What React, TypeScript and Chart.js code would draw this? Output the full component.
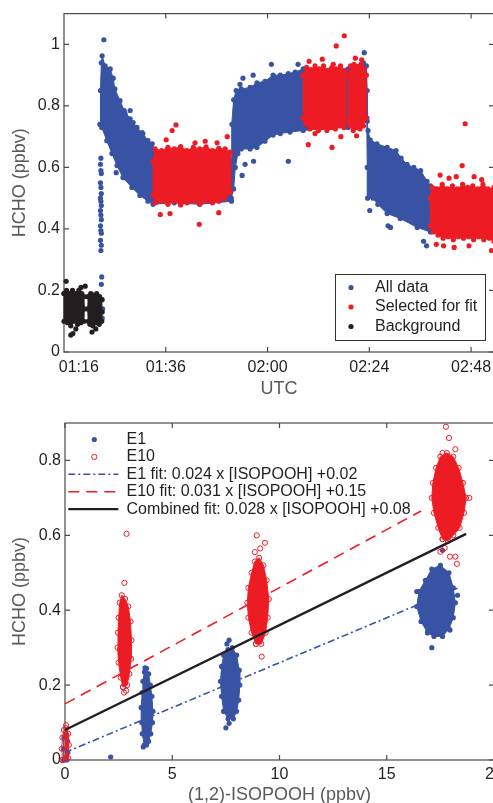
import React, { useEffect, useRef } from 'react';
import { Chart, registerables } from 'chart.js';
Chart.register(...registerables);

type P = [number, number];

// ---------------- Top panel: HCHO vs time (minutes after 00:00 UTC) ----------------
const timeRange: P = [72, 173.4];
const timeTickMinutes = [75.5, 96, 120, 144, 168];
const timeTickLabels = ['01:16', '01:36', '02:00', '02:24', '02:48'];
const timeTickMarks = [96, 120, 144, 168];
const topYRange: P = [0, 1.1];
const topYTicks = [0, 0.2, 0.4, 0.6, 0.8, 1];
const topYLabels = ['0', '0.2', '0.4', '0.6', '0.8', '1'];
const topLegendLabels = ['All data', 'Selected for fit', 'Background'];

// Background (black) clouds: outlines + scattered points
const backgroundCloudA: P[] = [[72.0, 0.19], [72.6, 0.2], [73.3, 0.19], [74.0, 0.2], [74.8, 0.19], [75.5, 0.2], [76.2, 0.19], [76.7, 0.18], [76.8, 0.14], [76.7, 0.1], [76.0, 0.095], [75.2, 0.09], [74.4, 0.1], [73.6, 0.085], [72.8, 0.095], [72.0, 0.1]];
const backgroundCloudB: P[] = [[77.7, 0.18], [78.3, 0.19], [79.0, 0.185], [79.7, 0.19], [80.4, 0.18], [80.9, 0.17], [81.0, 0.13], [80.9, 0.1], [80.3, 0.09], [79.5, 0.095], [78.8, 0.085], [78.1, 0.09], [77.7, 0.1], [77.6, 0.14]];
const backgroundPoints: P[] = [[72.5, 0.23], [73.6, 0.055], [74.1, 0.06], [76.0, 0.21], [77.0, 0.214], [78.6, 0.065], [79.5, 0.075], [74.8, 0.075]];

// All data (blue)
const allDataCloud1: P[] = [[80.5, 0.74], [80.6, 0.85], [80.8, 0.94], [81.0, 0.963], [81.7, 0.93], [82.9, 0.92], [83.6, 0.89], [84.0, 0.855], [85.2, 0.817], [86.2, 0.785], [87.6, 0.758], [89.2, 0.73], [90.6, 0.71], [91.8, 0.687], [92.8, 0.677], [93.5, 0.65], [100, 0.62], [111.4, 0.6], [111.5, 0.49], [104, 0.48], [98, 0.485], [93, 0.48], [91.8, 0.49], [89.9, 0.509], [88.0, 0.535], [85.9, 0.567], [84.5, 0.606], [83.3, 0.645], [82.1, 0.687], [80.9, 0.73]];
const allDataCloud2: P[] = [[111.4, 0.5], [111.5, 0.62], [111.6, 0.74], [112.0, 0.82], [112.6, 0.85], [113.8, 0.855], [115.9, 0.86], [117.5, 0.875], [119.4, 0.88], [121.3, 0.9], [123.0, 0.9], [124.9, 0.905], [126.5, 0.91], [128.4, 0.92], [135, 0.92], [139, 0.92], [142.6, 0.94], [143.3, 0.93], [143.5, 0.85], [143.5, 0.75], [139, 0.73], [135, 0.73], [128.4, 0.72], [125.3, 0.715], [123.0, 0.71], [121.3, 0.705], [119.4, 0.685], [117.5, 0.665], [115.9, 0.66], [113.8, 0.66], [113.0, 0.645], [112.4, 0.6], [112.0, 0.53]];
const allDataCloud3: P[] = [[143.4, 0.76], [143.7, 0.72], [144.2, 0.69], [145.8, 0.677], [148.2, 0.665], [150.3, 0.655], [151.5, 0.63], [152.9, 0.61], [154.5, 0.6], [156.1, 0.59], [157.6, 0.555], [158.4, 0.54], [165, 0.52], [173.4, 0.5], [173.4, 0.38], [165, 0.38], [158.4, 0.39], [155.3, 0.405], [151.3, 0.434], [148.2, 0.45], [146.0, 0.48], [144.9, 0.5], [143.6, 0.5], [143.5, 0.6]];
const allDataPoints: P[] = [[81.0, 0.11], [81.1, 0.14], [81.0, 0.17], [80.8, 0.22], [80.9, 0.244], [80.7, 0.33], [80.8, 0.347], [80.6, 0.363], [80.8, 0.386], [80.7, 0.395], [80.6, 0.41], [80.8, 0.43], [80.7, 0.445], [80.6, 0.46], [80.8, 0.476], [80.7, 0.49], [80.6, 0.5], [80.8, 0.515], [80.7, 0.535], [80.6, 0.55], [80.8, 0.58], [80.7, 0.59], [80.6, 0.61], [80.7, 0.63], [81.4, 1.015], [87.6, 0.785], [86.4, 0.775], [88.3, 0.746], [90.4, 0.713], [84.3, 0.583], [114.0, 0.574], [114.7, 0.61], [116.7, 0.62], [124.9, 0.62], [116.6, 0.9], [120.9, 0.935], [127.2, 0.935], [114.2, 0.89], [113.5, 0.87], [142.8, 0.973], [144.1, 0.46], [148.4, 0.41], [149.0, 0.405], [156.8, 0.36], [157.5, 0.345]];

// Selected for fit (red)
const fitCloud1: P[] = [[93.0, 0.62], [93.5, 0.66], [95, 0.655], [96.5, 0.665], [98, 0.66], [99.5, 0.668], [101, 0.655], [102.5, 0.665], [104, 0.66], [105.5, 0.667], [107, 0.655], [108.5, 0.662], [110, 0.66], [111.3, 0.65], [111.3, 0.52], [110, 0.5], [108.5, 0.49], [107, 0.485], [105.5, 0.492], [104, 0.48], [102.5, 0.49], [101, 0.485], [99.5, 0.478], [98, 0.49], [96.5, 0.48], [95, 0.49], [93.5, 0.485], [93.0, 0.51]];
const fitCloud2: P[] = [[128.4, 0.9], [129.2, 0.925], [130.2, 0.918], [131.2, 0.93], [132.2, 0.92], [133.2, 0.93], [134.2, 0.915], [135.2, 0.925], [136.2, 0.92], [137.2, 0.93], [138.2, 0.915], [138.6, 0.9], [138.6, 0.75], [138, 0.73], [137, 0.735], [136, 0.725], [135, 0.73], [134, 0.72], [133, 0.73], [132, 0.72], [131, 0.73], [130, 0.725], [129, 0.74], [128.4, 0.76]];
const fitCloud3: P[] = [[139.1, 0.9], [139.6, 0.93], [140.4, 0.935], [141.2, 0.928], [142.0, 0.935], [142.8, 0.92], [143.3, 0.9], [143.3, 0.76], [142.6, 0.735], [141.8, 0.725], [141.0, 0.73], [140.2, 0.72], [139.5, 0.735], [139.1, 0.75]];
const fitCloud4: P[] = [[158.4, 0.5], [158.8, 0.535], [160, 0.53], [161.2, 0.545], [162.4, 0.53], [163.6, 0.54], [164.8, 0.53], [166, 0.545], [167.2, 0.535], [168.4, 0.54], [169.6, 0.53], [170.8, 0.545], [172, 0.53], [173.4, 0.535], [173.4, 0.36], [172.3, 0.37], [171, 0.365], [169.8, 0.375], [168.6, 0.365], [167.4, 0.375], [166.2, 0.37], [165, 0.375], [163.8, 0.365], [162.6, 0.375], [161.4, 0.37], [160.2, 0.38], [159.0, 0.39], [158.4, 0.41]];
const fitPoints: P[] = [[96.1, 0.69], [97.5, 0.72], [98.4, 0.738], [102.9, 0.68], [105.3, 0.685], [108.1, 0.68], [110.5, 0.7], [94.7, 0.447], [97.0, 0.45], [103.9, 0.415], [108.5, 0.453], [129.8, 0.945], [132.9, 0.952], [135.5, 0.935], [136.2, 0.995], [138.1, 1.028], [129.6, 0.674], [135.2, 0.665], [131.2, 0.71], [137.3, 0.7], [140.7, 0.955], [142.2, 0.95], [141.0, 0.703], [165.9, 0.606], [166.6, 0.742], [160.7, 0.575], [162.8, 0.565], [164.5, 0.57], [168.7, 0.57], [170.5, 0.56], [159.8, 0.35], [161.5, 0.345], [164.0, 0.34], [167.5, 0.345], [172.8, 0.33]];

// ---------------- Bottom panel: HCHO vs (1,2)-ISOPOOH ----------------
const isoRange: P = [0, 20];
const isoTicks = [0, 5, 10, 15, 20];
const isoLabels = ['0', '5', '10', '15', '20'];
const botYRange: P = [0, 0.9];
const botYTicks = [0, 0.2, 0.4, 0.6, 0.8];
const botYLabels = ['0', '0.2', '0.4', '0.6', '0.8'];
const bottomLegendLabels = ['E1', 'E10', 'E1 fit: 0.024 x [ISOPOOH] +0.02', 'E10 fit: 0.031 x [ISOPOOH] +0.15', 'Combined fit: 0.028 x [ISOPOOH] +0.08'];

const e1Cloud0: P[] = [[-0.05, 0], [-0.08, 0.03], [-0.05, 0.06], [0.05, 0.07], [0.12, 0.05], [0.13, 0.02], [0.08, 0]];
const e1Cloud4: P[] = [[3.7, 0.04], [3.6, 0.07], [3.58, 0.1], [3.55, 0.14], [3.6, 0.18], [3.63, 0.21], [3.7, 0.235], [3.8, 0.245], [3.9, 0.23], [3.98, 0.2], [4.05, 0.17], [4.1, 0.13], [4.08, 0.1], [4.0, 0.07], [3.9, 0.05], [3.8, 0.04]];
const e1Cloud8: P[] = [[7.4, 0.13], [7.3, 0.17], [7.25, 0.21], [7.3, 0.25], [7.4, 0.28], [7.6, 0.295], [7.8, 0.3], [8.0, 0.28], [8.12, 0.24], [8.15, 0.2], [8.1, 0.16], [8.0, 0.13], [7.85, 0.11], [7.6, 0.11]];
const e1Cloud17: P[] = [[16.9, 0.34], [16.6, 0.37], [16.4, 0.41], [16.5, 0.45], [16.8, 0.48], [17.1, 0.51], [17.5, 0.52], [17.9, 0.5], [18.1, 0.46], [18.2, 0.42], [18.1, 0.38], [17.9, 0.35], [17.6, 0.33], [17.2, 0.33]];
const e1Points: P[] = [[2.13, 0.008], [3.73, 0.246], [3.65, 0.035], [7.65, 0.32], [7.55, 0.31], [7.5, 0.086], [7.65, 0.098], [17.1, 0.3], [17.6, 0.56], [17.95, 0.347], [16.4, 0.45], [18.3, 0.44]];

const e10Cloud0: P[] = [[-0.12, 0], [-0.15, 0.03], [-0.12, 0.06], [-0.05, 0.08], [0.05, 0.085], [0.15, 0.07], [0.18, 0.04], [0.15, 0.005]];
const e10Cloud3: P[] = [[2.7, 0.195], [2.6, 0.22], [2.5, 0.26], [2.45, 0.3], [2.47, 0.34], [2.5, 0.38], [2.55, 0.42], [2.65, 0.44], [2.8, 0.43], [2.95, 0.41], [3.05, 0.37], [3.1, 0.32], [3.08, 0.27], [3.0, 0.23], [2.9, 0.2]];
const e10Cloud9: P[] = [[8.9, 0.31], [8.7, 0.34], [8.55, 0.38], [8.5, 0.42], [8.55, 0.46], [8.7, 0.5], [8.85, 0.53], [9.05, 0.54], [9.25, 0.52], [9.4, 0.48], [9.5, 0.43], [9.45, 0.38], [9.35, 0.34], [9.15, 0.31]];
const e10Cloud18: P[] = [[17.6, 0.59], [17.4, 0.62], [17.2, 0.66], [17.1, 0.7], [17.15, 0.74], [17.3, 0.78], [17.5, 0.81], [17.8, 0.82], [18.1, 0.81], [18.35, 0.78], [18.55, 0.74], [18.7, 0.7], [18.6, 0.66], [18.4, 0.62], [18.1, 0.6], [17.85, 0.585]];
const e10Points: P[] = [[0.05, 0.093], [2.77, 0.473], [2.87, 0.604], [2.75, 0.18], [2.85, 0.185], [8.94, 0.6], [9.32, 0.58], [9.1, 0.565], [8.85, 0.555], [9.17, 0.276], [17.76, 0.89], [17.9, 0.86], [17.6, 0.82], [18.2, 0.83], [17.7, 0.566], [17.95, 0.543], [18.2, 0.543], [18.27, 0.524], [17.5, 0.556], [18.85, 0.7]];

const e1FitLine: P[] = [[0, 0.02], [18.3, 0.459]];
const e10FitLine: P[] = [[0, 0.15], [16.6, 0.665]];
const combinedFitLine: P[] = [[0, 0.08], [18.7, 0.604]];

// ---------------- styling ----------------
const BLUE = '#3953a4';
const RED = '#ed1c24';
const BLACK = '#231f20';
const AXIS = '#4a4a4a';
const TICK_COLOR = '#231f20';
const TITLE_COLOR = '#58595b';
const FAMILY = '"Liberation Sans", Arial, Helvetica, sans-serif';
const E1_DASH = [7, 3, 2, 3];
const E10_DASH = [11, 7];

const pts = (a: P[]) => a.map(([x, y]) => ({ x, y }));

const cloud = (a: P[], color: string, order: number, open = false) => ({
  data: pts([...a, a[0]]),
  showLine: true,
  fill: 'shape',
  backgroundColor: color,
  borderColor: color,
  borderWidth: 1,
  pointRadius: 2.6,
  pointBackgroundColor: open ? 'rgba(0,0,0,0)' : color,
  pointBorderColor: color,
  pointBorderWidth: open ? 1 : 0,
  order,
  clip: false as const,
});

const dots = (a: P[], color: string, order: number, open = false) => ({
  data: pts(a),
  showLine: false,
  pointRadius: 2.6,
  pointBackgroundColor: open ? 'rgba(0,0,0,0)' : color,
  pointBorderColor: color,
  pointBorderWidth: open ? 1 : 0,
  order,
  clip: false as const,
});

const line = (a: P[], color: string, dash: number[], width: number, order: number) => ({
  data: pts(a),
  showLine: true,
  fill: false,
  borderColor: color,
  borderWidth: width,
  borderDash: dash,
  pointRadius: 0,
  order,
  clip: false as const,
});

const framePlugin = (id: string, xMarks: number[], yMarks: number[]) => ({
  id,
  beforeDatasetsDraw(chart: any) {
    const { ctx, chartArea: a, scales } = chart;
    ctx.save();
    ctx.strokeStyle = AXIS;
    ctx.lineWidth = 1.2;
    ctx.strokeRect(a.left, a.top, a.right - a.left, a.bottom - a.top);
    const L = 5;
    ctx.beginPath();
    for (const v of xMarks) {
      const px = scales.x.getPixelForValue(v);
      ctx.moveTo(px, a.bottom); ctx.lineTo(px, a.bottom - L);
      ctx.moveTo(px, a.top); ctx.lineTo(px, a.top + L);
    }
    for (const v of yMarks) {
      const py = scales.y.getPixelForValue(v);
      ctx.moveTo(a.left, py); ctx.lineTo(a.left + L, py);
      ctx.moveTo(a.right, py); ctx.lineTo(a.right - L, py);
    }
    ctx.stroke();
    ctx.restore();
  },
});

type Entry = { label: string; kind: 'dot' | 'ring' | 'line'; color: string; dash?: number[]; width?: number };

const drawSymbol = (ctx: CanvasRenderingContext2D, e: Entry, cx: number, x0: number, x1: number, y: number) => {
  ctx.save();
  if (e.kind === 'line') {
    ctx.strokeStyle = e.color;
    ctx.lineWidth = e.width || 1.5;
    ctx.setLineDash(e.dash || []);
    ctx.beginPath(); ctx.moveTo(x0, y); ctx.lineTo(x1, y); ctx.stroke();
  } else {
    ctx.beginPath(); ctx.arc(cx, y, 2.6, 0, Math.PI * 2);
    if (e.kind === 'dot') { ctx.fillStyle = e.color; ctx.fill(); }
    else { ctx.strokeStyle = e.color; ctx.lineWidth = 1; ctx.stroke(); }
  }
  ctx.restore();
};

const topLegendPlugin = (entries: Entry[]) => ({
  id: 'topLegend',
  afterDatasetsDraw(chart: any) {
    const { ctx, chartArea: a } = chart;
    const w = 150, h = 66;
    const bx = a.right - 9 - w, by = a.bottom - 12 - h;
    ctx.save();
    ctx.fillStyle = '#fff';
    ctx.fillRect(bx, by, w, h);
    ctx.strokeStyle = '#333';
    ctx.lineWidth = 1;
    ctx.strokeRect(bx + 0.5, by + 0.5, w, h);
    ctx.font = `16px ${FAMILY}`;
    ctx.textBaseline = 'middle';
    ctx.textAlign = 'left';
    entries.forEach((e, i) => {
      const y = by + 13.5 + 19.5 * i;
      drawSymbol(ctx, e, bx + 16, 0, 0, y);
      ctx.fillStyle = BLACK;
      ctx.fillText(e.label, bx + 40, y);
    });
    ctx.restore();
  },
});

const bottomLegendPlugin = (entries: Entry[]) => ({
  id: 'bottomLegend',
  afterDatasetsDraw(chart: any) {
    const { ctx, chartArea: a } = chart;
    ctx.save();
    ctx.font = `16px ${FAMILY}`;
    ctx.textBaseline = 'middle';
    ctx.textAlign = 'left';
    entries.forEach((e, i) => {
      const y = a.top + 16.5 + 17.4 * i;
      drawSymbol(ctx, e, a.left + 29.3, a.left + 3.3, a.left + 53.3, y);
      ctx.fillStyle = BLACK;
      ctx.fillText(e.label, a.left + 61.5, y);
    });
    ctx.restore();
  },
});

const tickFont = { family: FAMILY, size: 16 };
const titleFont = { family: FAMILY, size: 18 };

const axisX = (range: P, ticks: number[], labels: string[], title: string, height: number, pad: number) => ({
  type: 'linear' as const,
  position: 'bottom' as const,
  min: range[0],
  max: range[1],
  grid: { display: false, drawTicks: false, tickLength: 0 },
  border: { display: false },
  afterBuildTicks: (s: any) => { s.ticks = ticks.map((value) => ({ value })); },
  afterFit: (s: any) => { s.height = height; },
  ticks: { callback: (_v: any, i: number) => labels[i], font: tickFont, color: TICK_COLOR, padding: pad, maxRotation: 0, autoSkip: false },
  title: { display: true, text: title, font: titleFont, color: TITLE_COLOR, padding: { top: 0, bottom: 0 } },
});

const axisY = (range: P, ticks: number[], labels: string[], width: number) => ({
  type: 'linear' as const,
  position: 'left' as const,
  min: range[0],
  max: range[1],
  grid: { display: false, drawTicks: false, tickLength: 0 },
  border: { display: false },
  afterBuildTicks: (s: any) => { s.ticks = ticks.map((value) => ({ value })); },
  afterFit: (s: any) => { s.width = width; },
  ticks: { callback: (_v: any, i: number) => labels[i], font: tickFont, color: TICK_COLOR, padding: 4, autoSkip: false },
  title: { display: true, text: 'HCHO (ppbv)', font: titleFont, color: TITLE_COLOR, padding: { top: 9, bottom: 0 } },
});

const baseOptions = {
  responsive: false,
  animation: false as const,
  events: [] as any[],
  plugins: { legend: { display: false }, tooltip: { enabled: false } },
};

function topConfig(): any {
  return {
    type: 'scatter',
    data: {
      datasets: [
        cloud(allDataCloud1, BLUE, 3),
        cloud(allDataCloud2, BLUE, 3),
        cloud(allDataCloud3, BLUE, 3),
        dots(allDataPoints, BLUE, 3),
        cloud(fitCloud1, RED, 2),
        cloud(fitCloud2, RED, 2),
        cloud(fitCloud3, RED, 2),
        cloud(fitCloud4, RED, 2),
        dots(fitPoints, RED, 2),
        cloud(backgroundCloudA, BLACK, 1),
        cloud(backgroundCloudB, BLACK, 1),
        dots(backgroundPoints, BLACK, 1),
      ],
    },
    options: {
      ...baseOptions,
      layout: { padding: { left: 0, top: 12, right: 26, bottom: 0 } },
      scales: {
        x: axisX(timeRange, timeTickMinutes, timeTickLabels, 'UTC', 48, 6),
        y: axisY(topYRange, topYTicks, topYLabels, 64),
      },
    },
    plugins: [
      framePlugin('topFrame', timeTickMarks, topYTicks),
      topLegendPlugin([
        { label: topLegendLabels[0], kind: 'dot', color: BLUE },
        { label: topLegendLabels[1], kind: 'dot', color: RED },
        { label: topLegendLabels[2], kind: 'dot', color: BLACK },
      ]),
    ],
  };
}

function bottomConfig(): any {
  return {
    type: 'scatter',
    data: {
      datasets: [
        cloud(e1Cloud0, BLUE, 3),
        cloud(e1Cloud4, BLUE, 3),
        cloud(e1Cloud8, BLUE, 3),
        cloud(e1Cloud17, BLUE, 3),
        dots(e1Points, BLUE, 3),
        cloud(e10Cloud0, RED, 2, true),
        cloud(e10Cloud3, RED, 2, true),
        cloud(e10Cloud9, RED, 2, true),
        cloud(e10Cloud18, RED, 2, true),
        dots(e10Points, RED, 2, true),
        line(e1FitLine, BLUE, E1_DASH, 1.6, 0),
        line(e10FitLine, RED, E10_DASH, 1.6, 0),
        line(combinedFitLine, BLACK, [], 2.4, 0),
      ],
    },
    options: {
      ...baseOptions,
      layout: { padding: { left: 0, top: 23, right: 26, bottom: 0 } },
      scales: {
        x: axisX(isoRange, isoTicks, isoLabels, '(1,2)-ISOPOOH (ppbv)', 46, 4.5),
        y: axisY(botYRange, botYTicks, botYLabels, 65),
      },
    },
    plugins: [
      framePlugin('bottomFrame', isoTicks, botYTicks),
      bottomLegendPlugin([
        { label: bottomLegendLabels[0], kind: 'dot', color: BLUE },
        { label: bottomLegendLabels[1], kind: 'ring', color: RED },
        { label: bottomLegendLabels[2], kind: 'line', color: BLUE, dash: E1_DASH, width: 1.6 },
        { label: bottomLegendLabels[3], kind: 'line', color: RED, dash: E10_DASH, width: 1.6 },
        { label: bottomLegendLabels[4], kind: 'line', color: BLACK, width: 2.4 },
      ]),
    ],
  };
}

export default function App() {
  const topRef = useRef<HTMLCanvasElement>(null);
  const botRef = useRef<HTMLCanvasElement>(null);
  useEffect(() => {
    const c1 = new Chart(topRef.current as HTMLCanvasElement, topConfig());
    const c2 = new Chart(botRef.current as HTMLCanvasElement, bottomConfig());
    return () => { c1.destroy(); c2.destroy(); };
  }, []);
  return (
    <div style={{ position: 'absolute', left: 0, top: 0, width: 493, height: 803, overflow: 'hidden', background: '#fff' }}>
      <canvas ref={topRef} width={520} height={400} style={{ position: 'absolute', left: 0, top: 0, width: 520, height: 400 }} />
      <canvas ref={botRef} width={520} height={406} style={{ position: 'absolute', left: 0, top: 400, width: 520, height: 406 }} />
    </div>
  );
}
